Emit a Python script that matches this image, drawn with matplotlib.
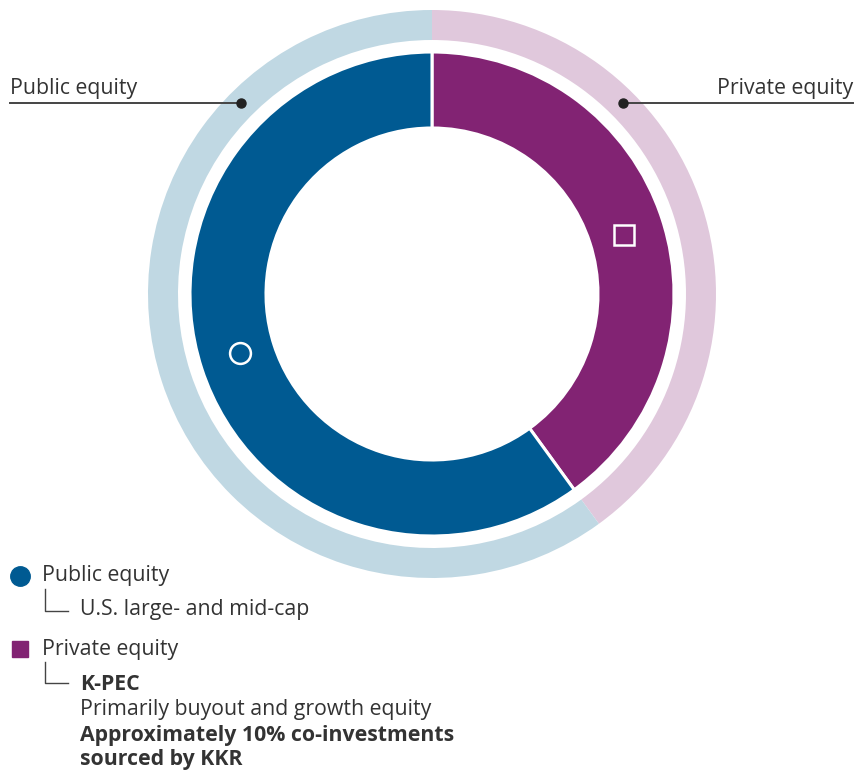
import numpy as np
import matplotlib
matplotlib.use("Agg")
import matplotlib.pyplot as plt

# data
segments = ["Private equity", "Public equity"]
shares = [40, 60]
inner_colors = ["#822373", "#005A92"]
outer_colors = ["#E0C8DC", "#C0D8E3"]
text_col = "#333333"

W, H = 855, 770
fig = plt.figure(figsize=(W / 100, H / 100), dpi=100)
ax = fig.add_axes([0, 0, 1, 1])

plt.rcParams["font.family"] = ["Open Sans", "DejaVu Sans"]

def Y(y):
    # pixel row from top -> data y
    return H - y

cx, cy = 432, Y(294)

# outer thin ring
ax.pie(shares, radius=284, center=(cx, cy), colors=outer_colors,
       startangle=90, counterclock=False, frame=True,
       wedgeprops=dict(width=30, linewidth=0))
# inner ring
ax.pie(shares, radius=242, center=(cx, cy), colors=inner_colors,
       startangle=90, counterclock=False, frame=True,
       wedgeprops=dict(width=76, edgecolor="white", linewidth=2.2))
ax.set_xlim(0, W)
ax.set_ylim(0, H)
ax.set_aspect("equal")
ax.axis("off")

# hollow markers inside the segments
rm = 201
a = np.deg2rad(17)
ax.plot(cx + rm * np.cos(a), cy + rm * np.sin(a), marker="s", ms=14,
        mfc="none", mec="white", mew=1.8)
ax.plot(cx - rm * np.cos(a), cy - rm * np.sin(a), marker="o", ms=15,
        mfc="none", mec="white", mew=1.8)

# leader lines
ro = 270
d = ro * np.cos(np.deg2rad(45))
fs = 15.3
ax.plot([cx - d, 10], [cy + d, cy + d], color="#444444", lw=1.4)
ax.plot(cx - d, cy + d, "o", color="#222222", ms=6.5)
ax.text(10, cy + d + 4, segments[1], fontsize=fs, color=text_col,
        ha="left", va="bottom")
ax.plot([cx + d, 853], [cy + d, cy + d], color="#444444", lw=1.4)
ax.plot(cx + d, cy + d, "o", color="#222222", ms=6.5)
ax.text(853, cy + d + 4, segments[0], fontsize=fs, color=text_col,
        ha="right", va="bottom")

# legend block
ax.plot(20, Y(576), "o", color=inner_colors[1], ms=14)
ax.text(42, Y(576), "Public equity", fontsize=fs, color=text_col, va="center")
ax.plot([45, 45, 68], [Y(589), Y(611), Y(611)], color="#444444", lw=1)
ax.text(80, Y(610), "U.S. large- and mid-cap", fontsize=fs, color=text_col,
        va="center")

ax.plot(20, Y(649), "s", color=inner_colors[0], ms=12)
ax.text(42, Y(649), "Private equity", fontsize=fs, color=text_col, va="center")
ax.plot([45, 45, 68], [Y(662), Y(683), Y(683)], color="#444444", lw=1)
ax.text(80, Y(685), "K-PEC", fontsize=fs, color=text_col, va="center",
        fontweight="bold")
ax.text(80, Y(710), "Primarily buyout and growth equity", fontsize=fs,
        color=text_col, va="center")
ax.text(80, Y(736), "Approximately 10% co-investments", fontsize=fs,
        color=text_col, va="center", fontweight="bold")
ax.text(80, Y(760), "sourced by KKR", fontsize=fs, color=text_col,
        va="center", fontweight="bold")

fig.savefig("out.png", dpi=100)
